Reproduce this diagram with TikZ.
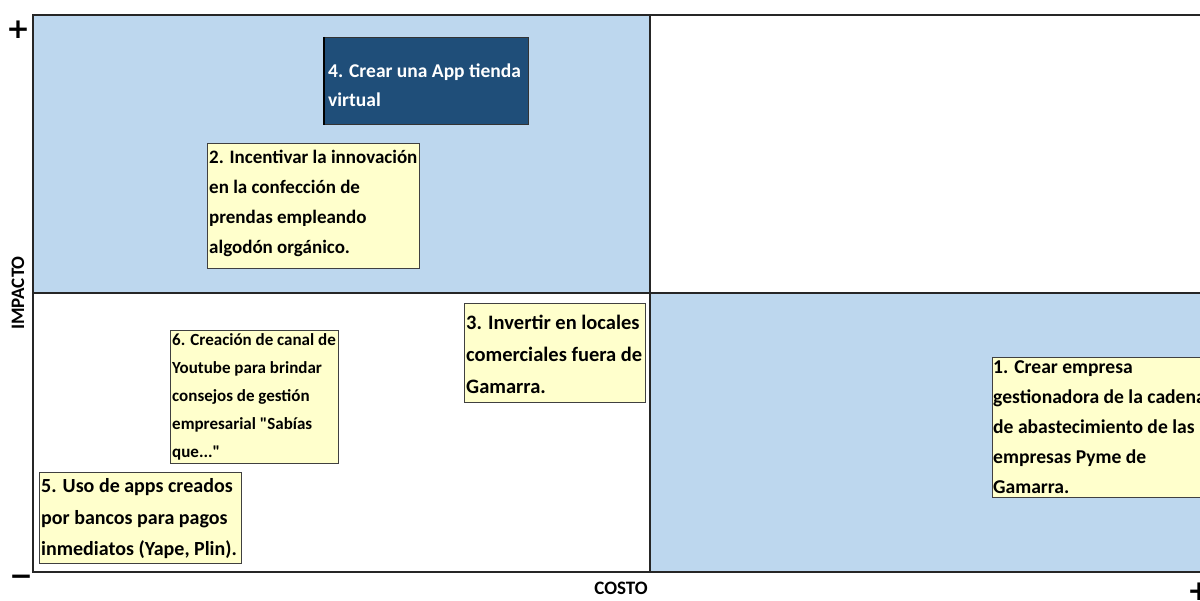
\documentclass[tikz,border=0pt]{standalone}
\usepackage{fontspec}
\setmainfont{Carlito}[Ligatures=TeXOff]
\newfontfamily\symfont{DejaVu Sans}
\definecolor{qblue}{HTML}{BDD7EE}
\definecolor{nyellow}{HTML}{FFFFCC}
\definecolor{ndark}{HTML}{1F4E79}
\tikzset{
  frame/.style={draw=black!85, line width=1.6pt},
  ideabox/.style={draw=black!75, line width=0.8pt, fill=nyellow, inner sep=0pt, anchor=north west},
  darkbox/.style={ideabox, fill=ndark, draw=black!80},
  ideatext/.style={inner sep=0pt, align=left, anchor=west},
  axislabel/.style={font=\bfseries\fontsize{19}{19}\selectfont, inner sep=0pt},
  sign/.style={font=\symfont\bfseries\fontsize{28}{28}\selectfont, inner sep=0pt}
}
\begin{document}
\begin{tikzpicture}[x=1pt,y=-1pt]
\useasboundingbox (0,0) rectangle (1200,601);
\begin{scope}
\clip (0,0) rectangle (1200,601);
\fill[white] (0,0) rectangle (1200,601);
\fill[qblue] (33,15) rectangle (650,293);
\fill[qblue] (650,293) rectangle (1260,572);
\draw[frame] (33,15) rectangle (1260,572);
\draw[frame] (650,15) -- (650,572);
\draw[frame] (33,293) -- (1260,293);

\node[darkbox, minimum width=204pt, minimum height=87pt] (n4) at (324,37) {};
\draw[line width=1.6pt] (n4.north west) -- (n4.south west);
\node[ideatext, text=white, font=\bfseries\fontsize{19.5}{29}\selectfont] (t4) at ([xshift=4pt,yshift=-4pt]n4.west)
  {4. Crear una App tienda\\virtual};

\node[ideabox, minimum width=212pt, minimum height=125pt] (n2) at (207,143) {};
\node[ideatext, font=\bfseries\fontsize{19}{30}\selectfont] (t2) at ([xshift=2pt,yshift=2pt]n2.west)
  {2. Incentivar la innovación\\en la confección de\\prendas empleando\\algodón orgánico.};

\node[ideabox, minimum width=168pt, minimum height=133pt] (n6) at (170,330) {};
\node[ideatext, font=\bfseries\fontsize{17}{28}\selectfont] (t6) at ([xshift=2pt]n6.west)
  {6. Creación de canal de\\Youtube para brindar\\consejos de gestión\\empresarial "Sabías\\que..."};

\node[ideabox, minimum width=181pt, minimum height=99pt] (n3) at (464,303) {};
\node[ideatext, font=\bfseries\fontsize{20.5}{32}\selectfont] (t3) at ([xshift=2pt,yshift=-1pt]n3.west)
  {3. Invertir en locales\\comerciales fuera de\\Gamarra.};

\node[ideabox, minimum width=202pt, minimum height=91pt] (n5) at (39,472) {};
\node[ideatext, font=\bfseries\fontsize{20}{31.5}\selectfont] (t5) at ([xshift=2pt,yshift=-1pt]n5.west)
  {5. Uso de apps creados\\por bancos para pagos\\inmediatos (Yape, Plin).};

\node[ideabox, minimum width=240pt, minimum height=140pt] (n1) at (992,357) {};
\node[ideatext, font=\bfseries\fontsize{19.6}{30}\selectfont] (t1) at ([xshift=1pt]n1.west)
  {1. Crear empresa\\gestionadora de la cadena\\de abastecimiento de las\\empresas Pyme de\\Gamarra.};

\node[sign] (plustop) at (18,30) {+};
\node[sign] (minus) at (21,580) {−};
\node[sign] (plusright) at (1199,592) {+};
\node[axislabel, rotate=90] (impacto) at (18,293) {IMPACTO};
\node[axislabel] (costo) at (621,588) {COSTO};
\end{scope}
\end{tikzpicture}
\end{document}
